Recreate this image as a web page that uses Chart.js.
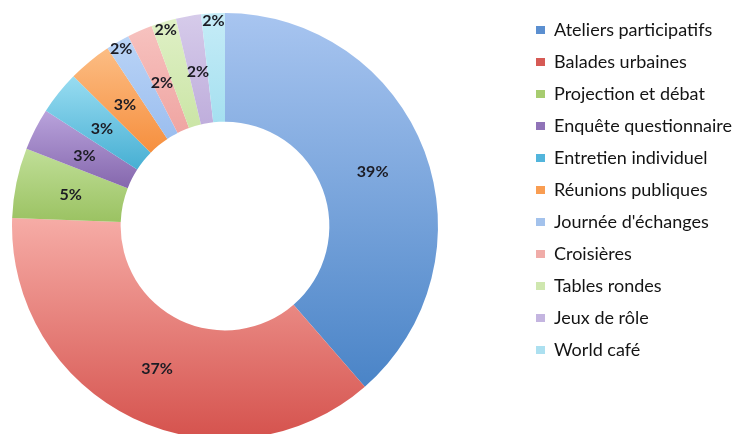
<!DOCTYPE html>
<html>
<head>
<meta charset="utf-8">
<script src="https://cdn.jsdelivr.net/npm/chart.js@4"></script>
<style>
  html, body { margin: 0; padding: 0; background: #ffffff; overflow: hidden; }
  /* the ring sits left of centre and runs off the bottom edge, so the canvas is
     a bit bigger than the window and shifted left */
  #wrap { position: absolute; left: -72px; top: 0; width: 809px; height: 439px; }
</style>
</head>
<body>
<div id="wrap"><canvas id="chart_methodes"></canvas></div>
<script>
// categories and shares (percent of actions)
var categories = [
    'Ateliers participatifs', 'Balades urbaines', 'Projection et débat', 'Enquête questionnaire',
    'Entretien individuel', 'Réunions publiques', "Journée d'échanges", 'Croisières',
    'Tables rondes', 'Jeux de rôle', 'World café'
];
var shares = [38.6, 37.0, 5.3, 3.2, 3.3, 3.3, 1.8, 1.9, 1.9, 1.9, 1.8];

// colours: top (light) and bottom (dark) of each slice's gradient, plus legend keys
var lightColors = ['#a8c5f0', '#f6aca6', '#c0df98', '#b9a3dc', '#98dcf1', '#fcbd84',
                   '#bad4f6', '#f7c2bf', '#dff0c6', '#d6cbea', '#c6ecf7'];
var darkColors  = ['#4a84c7', '#d5524d', '#9bc262', '#8567ad', '#47afd3', '#f68f3e',
                   '#9bbeef', '#efa5a2', '#cbe5a6', '#bfaedc', '#a5e0f0'];
var keyColors   = ['#5b8fd0', '#d65a55', '#a7cc6f', '#9073b8', '#52b5dc', '#f99d52',
                   '#a3c2ec', '#f0aca8', '#cfe7af', '#c4b5e0', '#ace0f0'];

function sliceFill(context) {
    var i = context.dataIndex;
    var arc = context.chart.getDatasetMeta(0).data[i];
    if (!arc || arc.x === undefined || arc.outerRadius === undefined) {
        return darkColors[i];
    }
    // vertical extent of the slice, the gradient runs top to bottom over it
    var top = Infinity, bottom = -Infinity;
    for (var k = 0; k <= 32; k++) {
        var a = arc.startAngle + (arc.endAngle - arc.startAngle) * k / 32;
        [arc.innerRadius, arc.outerRadius].forEach(function(r) {
            var y = arc.y + r * Math.sin(a);
            top = Math.min(top, y);
            bottom = Math.max(bottom, y);
        });
    }
    if (!(bottom > top)) return darkColors[i];
    var g = context.chart.ctx.createLinearGradient(0, top, 0, bottom);
    g.addColorStop(0, lightColors[i]);
    g.addColorStop(1, darkColors[i]);
    return g;
}

var percentLabels = {
    id: 'percentLabels',
    afterDatasetsDraw: function(chart) {
        var ctx = chart.ctx;
        var meta = chart.getDatasetMeta(0);
        var values = chart.data.datasets[0].data;
        var total = values.reduce(function(s, v) { return s + v; }, 0);
        ctx.save();
        ctx.font = 'bold 16px Lato';
        ctx.fillStyle = '#1c1c24';
        ctx.textAlign = 'center';
        ctx.textBaseline = 'middle';
        meta.data.forEach(function(arc, i) {
            var pct = values[i] / total * 100;
            var mid = (arc.startAngle + arc.endAngle) / 2;
            // the thin slices alternate between mid ring and outer rim, like the original
            var r = (pct < 2.5 && i % 2 === 0) ? arc.outerRadius - 7 : (arc.innerRadius + arc.outerRadius) / 2 - 1;
            ctx.fillText(Math.round(pct) + '%', arc.x + r * Math.cos(mid), arc.y + r * Math.sin(mid) + 1);
        });
        ctx.restore();
    }
};

var chart_methodes = new Chart(document.getElementById('chart_methodes'), {
    type: 'doughnut',
    data: {
        labels: categories,
        datasets: [{
            data: shares,
            backgroundColor: sliceFill,
            borderWidth: 0
        }]
    },
    options: {
        animation: false,
        responsive: true,
        maintainAspectRatio: false,
        cutout: '49%',
        layout: {
            padding: { top: 13, bottom: 0, left: 0, right: 0 }
        },
        plugins: {
            tooltip: { enabled: false },
            legend: {
                position: 'right',
                align: 'start',
                maxWidth: 215,
                // empty title with negative padding lifts the key list to the top edge
                title: { display: true, text: '', font: { size: 1, lineHeight: 0 }, padding: { top: -6, bottom: 0 } },
                labels: {
                    boxWidth: 9,
                    boxHeight: 8,
                    padding: 14,
                    color: '#141414',
                    font: { family: 'Lato', size: 18 },
                    generateLabels: function(chart) {
                        var items = Chart.overrides.doughnut.plugins.legend.labels.generateLabels(chart);
                        items.forEach(function(it, i) {
                            it.fillStyle = keyColors[i];
                            it.strokeStyle = keyColors[i];
                            it.lineWidth = 0;
                        });
                        return items;
                    }
                }
            }
        }
    },
    plugins: [percentLabels]
});

// second pass so the gradients see each slice's geometry
chart_methodes.update();
</script>
</body>
</html>
